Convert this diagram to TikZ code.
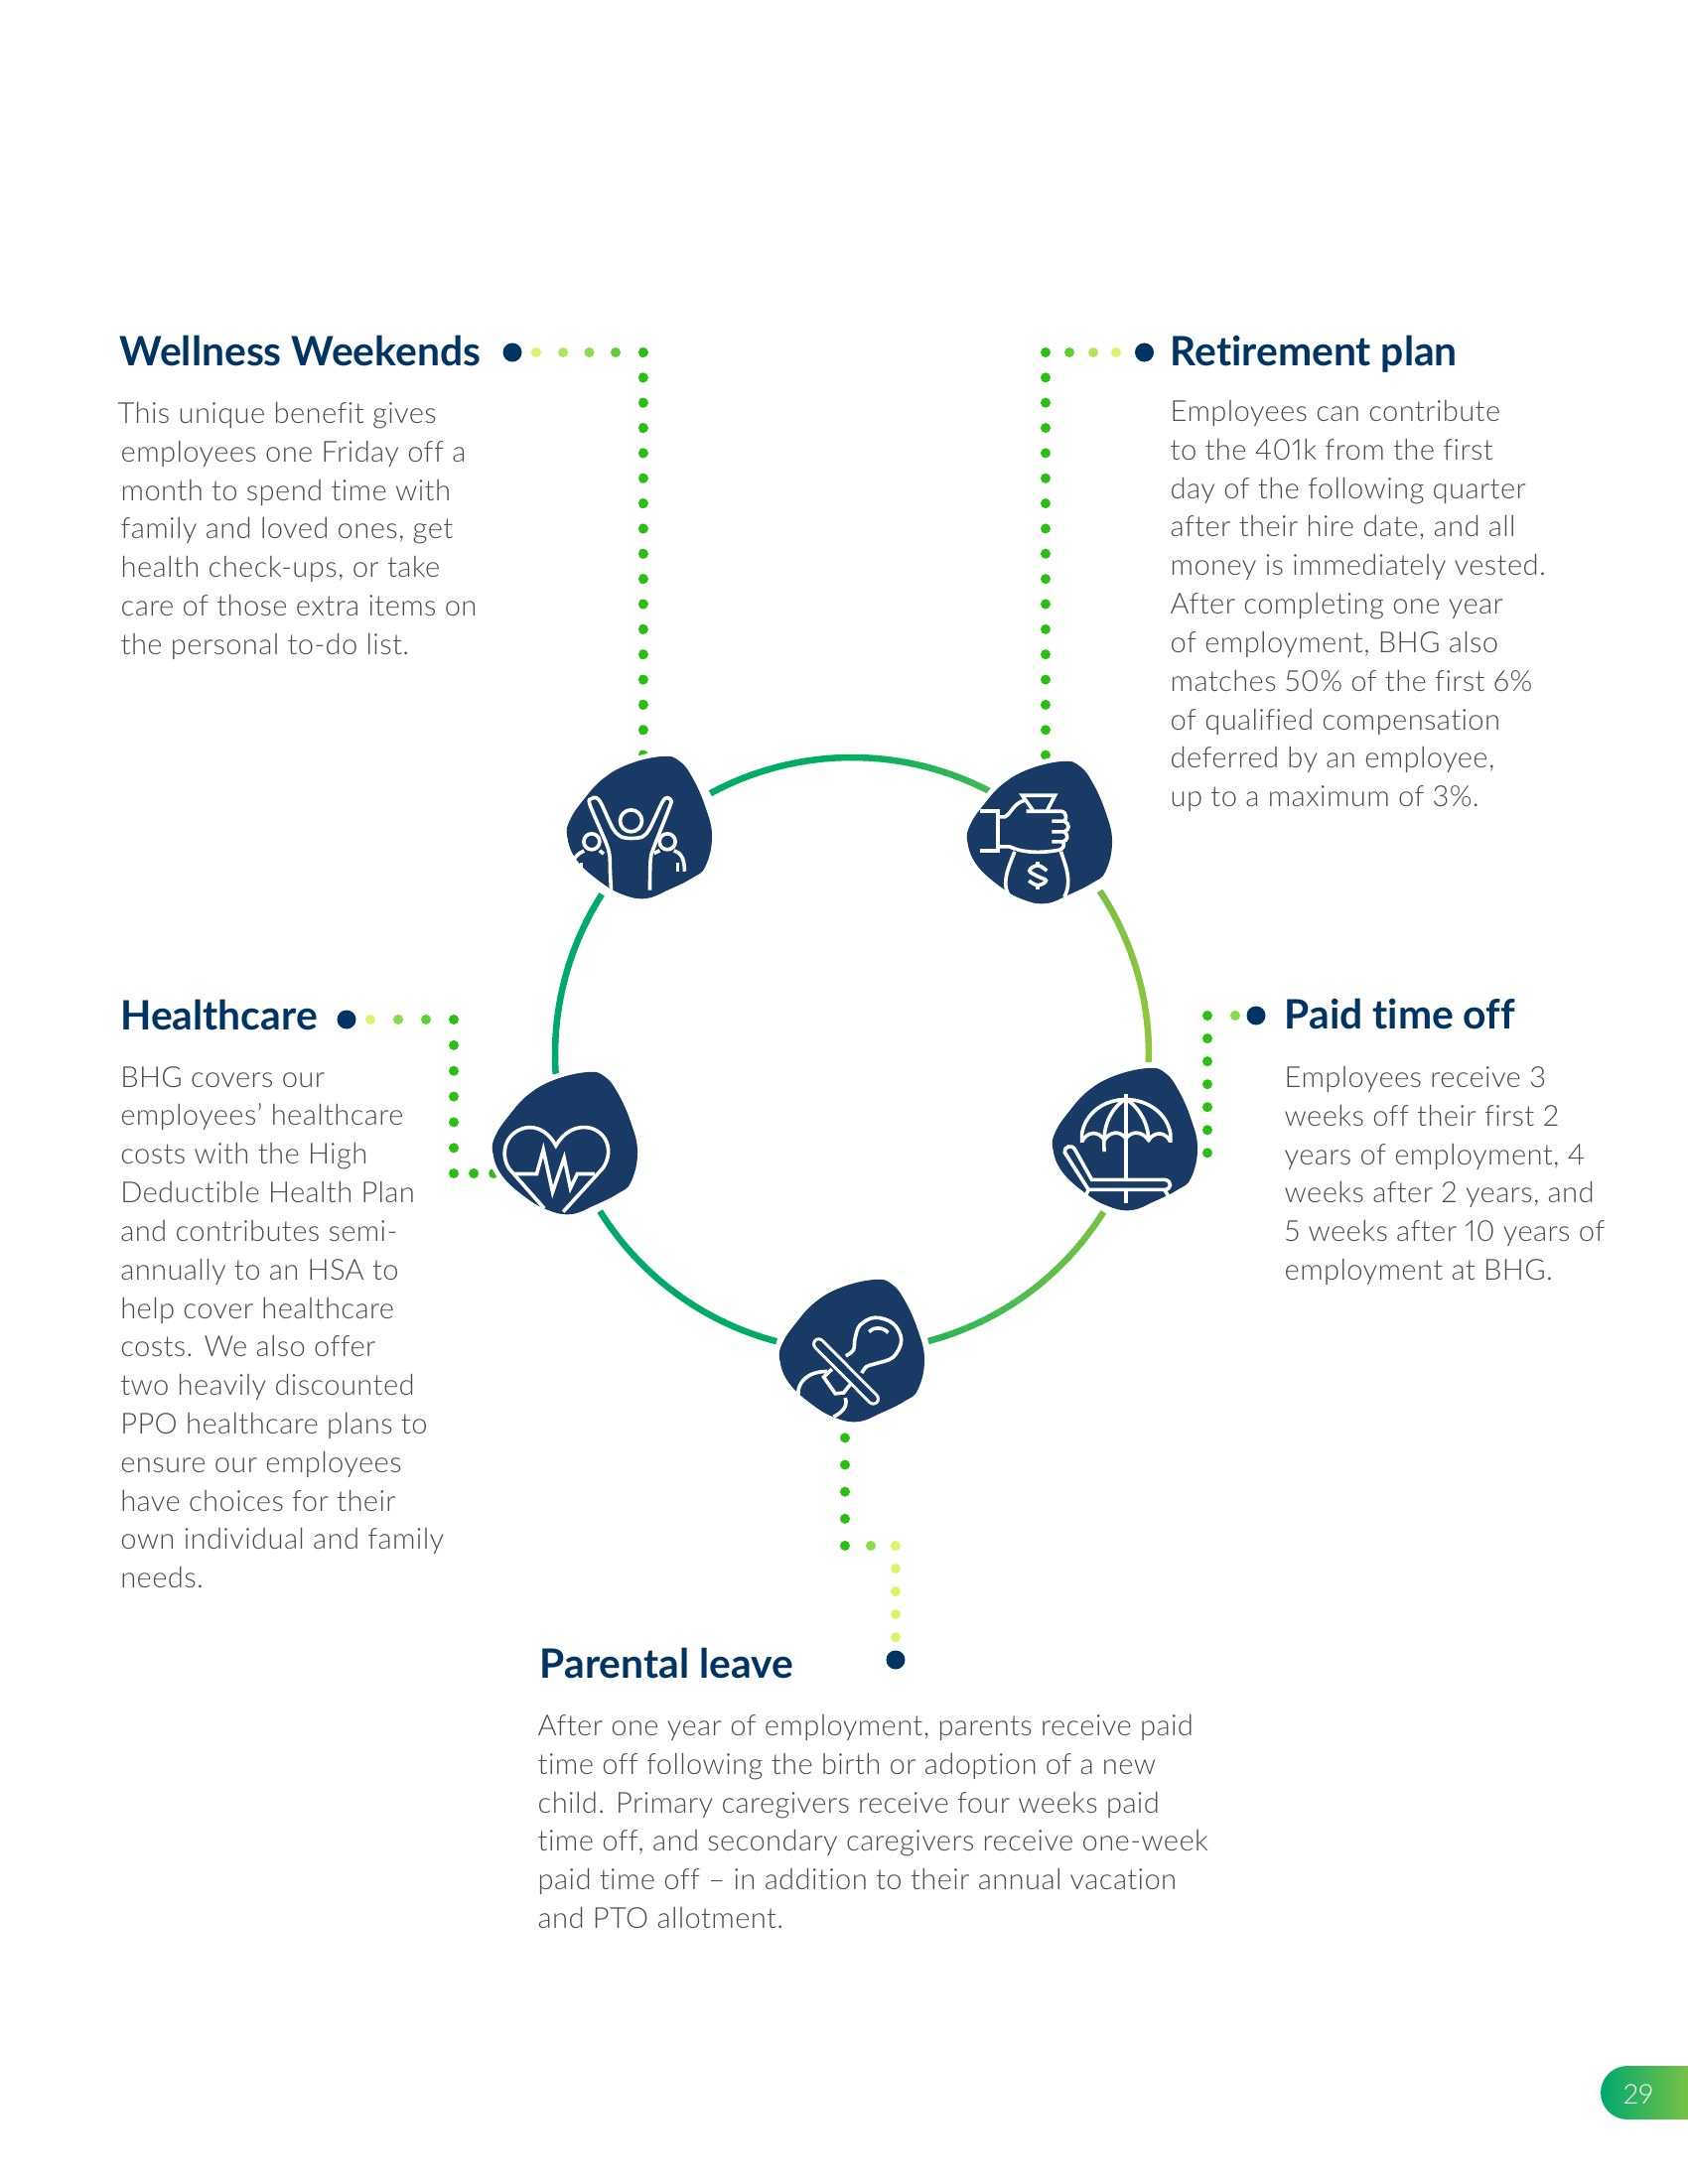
\documentclass[tikz,border=0pt]{standalone}
\usepackage{fontspec}
\usetikzlibrary{calc}
\newfontfamily\headface[Ligatures=CommonOff]{Lato Bold}
\newfontfamily\bodyface[LetterSpace=1.2,Ligatures=CommonOff,Numbers=Proportional]{Lato Light}
\definecolor{titleblue}{HTML}{003462}
\definecolor{bodygray}{HTML}{4C4D4F}
\definecolor{blobnavy}{HTML}{183A64}
\definecolor{ringteal}{HTML}{00A86F}
\definecolor{ringgreen}{HTML}{00AE60}
\definecolor{ringlime}{HTML}{8DC63F}
\definecolor{dota}{HTML}{D9F56A}
\definecolor{dotb}{HTML}{AEE85A}
\definecolor{dotc}{HTML}{86DC4C}
\definecolor{dotd}{HTML}{5ECF35}
\definecolor{dote}{HTML}{2BBE14}
\tikzset{
  headtext/.style={anchor=base west,inner sep=0pt,text=titleblue,font=\headface\fontsize{11.6}{13}\selectfont},
  bodytext/.style={anchor=north west,inner sep=0pt,align=left,text=bodygray,font=\bodyface\fontsize{8.3}{11.04}\selectfont},
  blobspot/.style={circle,inner sep=0pt,minimum size=1pt},
  navydot/.style={circle,inner sep=0pt,minimum size=0.19cm,fill=titleblue},
  leaddot/.style={circle,inner sep=0pt,minimum size=0.1cm,fill=#1},
  leadline/.style={line width=0.1cm,line cap=round,draw=#1,dash pattern=on 0.01pt off 0.253cm},
  ringline/.style={line width=0.065cm},
  iconline/.style={draw=white,line width=0.036cm},
  iconframe/.style={shift={(#1)},xshift=-0.8cm,yshift=0.8cm,x=0.0033333cm,y=-0.0033333cm}
}
\newcommand{\blobshape}{%
  \fill[blobnavy,preaction={draw=white,line width=0.1cm}] plot[smooth cycle,tension=0.7] coordinates
    {(310,27) (360,40) (400,90) (440,180) (460,270) (440,360) (400,395) (330,430) (260,457)
     (190,445) (120,405) (50,340) (22,270) (30,220) (70,160) (130,95) (210,50)};}
\newcommand{\ringarc}[3]{%
  \pgfmathsetmacro{\stepang}{(#2-#1)/12}
  \foreach \i in {1,...,12}{
    \pgfmathsetmacro{\startang}{#1+(\i-1)*\stepang}
    \pgfmathsetmacro{\mixp}{100*abs(cos(\startang+\stepang/2))}
    \coordinate (ringpt) at ($(hub)+(\startang:299)$);
    \draw[ringline,draw=#3!\mixp!ringgreen] (ringpt) arc[start angle=\startang,delta angle=\stepang+0.2,radius=299];
  }}
\begin{document}
\begin{tikzpicture}[x=0.01cm,y=-0.01cm]
\useasboundingbox (-1,0) rectangle (1699,2200);
\coordinate (hub) at (857,1062);
% blobs
\node[blobspot] (wellness) at (643,833) {};
\node[blobspot] (retire) at (1046,838) {};
\node[blobspot] (health) at (568,1151) {};
\node[blobspot] (paid) at (1132,1147) {};
\node[blobspot] (parent) at (857,1360) {};
% ring
\ringarc{-118.5}{-90}{ringteal}
\ringarc{-90}{-62.5}{ringlime}
\ringarc{-33.4}{1.3}{ringlime}
\ringarc{32.1}{74.9}{ringlime}
\ringarc{104.7}{147.9}{ringteal}
\ringarc{176.2}{212.4}{ringteal}
% leaders
\node[navydot] (wdot) at (515,355) {};
\coordinate (wcorner) at (646.5,355);
\foreach \x/\c in {539/dota,566/dotb,592.5/dotc,619/dotd}
  \node[leaddot=\c] (w\x) at (\x,355) {};
\draw[leadline=dote] (wcorner) -- (wcorner |- wellness);
\node[navydot] (rdot) at (1151.5,355) {};
\coordinate (rcorner) at (1052,355);
\foreach \x/\c in {1123/dota,1100/dotb,1076/dotd}
  \node[leaddot=\c] (r\x) at (\x,355) {};
\draw[leadline=dote] (rcorner) -- (rcorner |- retire);
\node[navydot] (hdot) at (348,1027) {};
\coordinate (hcorner) at (456,1027);
\coordinate (hturn) at (456,1182);
\foreach \x/\c in {372/dota,400/dotc,428/dotd}
  \node[leaddot=\c] (h\x) at (\x,1027) {};
\draw[leadline=dote,dash pattern=on 0.01pt off 0.258cm] (hcorner) -- (hturn);
\draw[leadline=dote,dash pattern=on 0.01pt off 0.2cm] (hturn) -- (hturn -| health);
\node[navydot] (pdot) at (1264,1023) {};
\coordinate (pcorner) at (1215,1023);
\coordinate (pend) at (1215,1162);
\node[leaddot=dotc] (p1243) at (1243,1023) {};
\draw[leadline=dote,dash pattern=on 0.01pt off 0.23cm] (pcorner) -- (pend);
\node[navydot] (kdot) at (901,1672) {};
\coordinate (kturn) at (901,1557);
\coordinate (kcorner) at (850,1557);
\node[leaddot=dotc] (k876) at (876,1557) {};
\draw[leadline=dota,dash pattern=on 0.01pt off 0.23cm] (kturn) -- (kdot);
\draw[leadline=dote,dash pattern=on 0.01pt off 0.271cm] (kcorner) -- (kcorner |- parent);
% wellness icon
\begin{scope}[iconframe=wellness]
\blobshape
\draw[iconline] (215,222) circle (33);
\draw[iconline] (96,285) circle (24);
\draw[iconline] (325,285) circle (24);
\draw[iconline] plot[smooth,tension=0.5] coordinates {(155,432) (152,380) (150,325) (138,285) (90,172) (95,155) (110,152) (125,170) (160,245) (185,270) (215,275) (250,270) (272,245) (310,165) (325,152) (337,162) (330,185) (285,300) (274,340) (272,432)};
\draw[iconline] (73,313) .. controls (60,318) and (52,325) .. (45,335);
\draw[iconline] (65,348) -- (65,375);
\draw[iconline] (120,312) -- (132,322);
\draw[iconline] (345,312) .. controls (365,318) and (377,335) .. (377,375);
\draw[iconline] (356,350) -- (356,375);
\draw[iconline] (285,320) -- (302,312);
\end{scope}
% retirement icon
\begin{scope}[iconframe=retire]
\blobshape
\draw[iconline] (220,175) -- (188,130) -- (287,130) -- (262,178);
\draw[iconline] (200,178) -- (305,178) .. controls (325,180) and (322,205) .. (315,208) -- (278,208);
\draw[iconline] (315,208) .. controls (332,215) and (332,235) .. (315,240) -- (278,240);
\draw[iconline] (315,240) .. controls (330,250) and (325,268) .. (310,270) -- (278,270);
\draw[iconline] (310,270) .. controls (318,280) and (312,292) .. (300,295) .. controls (250,305) and (190,305) .. (150,285) -- (115,285);
\draw[iconline] (60,178) -- (115,178) -- (115,297) -- (60,297);
\draw[iconline] (115,195) -- (135,195) .. controls (155,185) and (160,155) .. (195,145);
\draw[iconline] (165,300) .. controls (150,340) and (125,390) .. (145,428);
\draw[iconline] (305,300) .. controls (320,345) and (340,390) .. (315,438);
\draw[iconline] plot[smooth,tension=0.7] coordinates {(262,358) (235,342) (210,358) (235,375) (260,388) (235,402) (208,388)};
\draw[iconline] (235,332) -- (235,342);
\draw[iconline] (235,402) -- (235,414);
\end{scope}
% healthcare icon
\begin{scope}[iconframe=health]
\blobshape
\draw[iconline] (178,440) -- (72,320) .. controls (45,280) and (55,215) .. (115,197) .. controls (160,185) and (195,215) .. (213,250) .. controls (235,210) and (275,185) .. (320,197) .. controls (375,215) and (385,275) .. (355,318) -- (235,450);
\draw[iconline] (85,335) -- (155,335) -- (175,262) -- (203,390) -- (238,287) -- (257,378) -- (278,335) -- (330,335);
\end{scope}
% paid time off icon
\begin{scope}[iconframe=paid]
\blobshape
\draw[iconline] (243,105) -- (243,360);
\draw[iconline] (243,398) -- (243,435);
\draw[iconline] (110,252) -- (110,225) .. controls (120,165) and (175,122) .. (243,122) .. controls (310,122) and (368,165) .. (378,225) -- (378,252);
\draw[iconline] (110,250) .. controls (125,218) and (160,215) .. (178,245) .. controls (195,218) and (225,215) .. (243,240) .. controls (262,215) and (292,218) .. (312,245) .. controls (330,218) and (362,218) .. (378,250);
\draw[iconline] (178,280) .. controls (172,210) and (190,160) .. (235,125);
\draw[iconline] (312,248) .. controls (312,200) and (290,155) .. (250,125);
\draw[iconline] (130,395) -- (58,282) .. controls (55,265) and (80,255) .. (90,275) -- (140,365) -- (362,365) .. controls (385,370) and (380,395) .. (360,395) -- (130,395);
\draw[iconline] (130,395) -- (122,412);
\draw[iconline] (360,395) -- (372,415);
\end{scope}
% parental icon
\begin{scope}[iconframe=parent]
\blobshape
\draw[iconline] plot[smooth,tension=0.6] coordinates {(222,258) (245,240) (250,205) (265,165) (310,142) (365,160) (390,210) (365,262) (310,282) (285,290) (270,310)};
\draw[iconline] (292,185) .. controls (305,170) and (335,170) .. (350,188);
\draw[iconline] (78,375) .. controls (75,340) and (105,305) .. (165,305);
\draw[iconline] (180,298) -- (155,322) -- (190,372) -- (215,370) -- (235,345);
\draw[iconline] (220,385) .. controls (230,410) and (210,430) .. (185,442);
\draw[white,line width=0.13cm,line cap=round] (140,222) -- (305,388);
\draw[blobnavy,line width=0.07cm,line cap=round] (140,222) -- (305,388);
\end{scope}
% texts
\node[headtext] (wtitle) at (119,368) {Wellness Weekends};
\node[bodytext] (wbody) at (120,404.5) {\hspace*{-0.03cm}This unique benefit gives\\employees one Friday off a\\month to spend time with\\family and loved ones, get\\health check-ups, or take\\care of those extra items on\\the personal to-do list.};
\node[headtext] (rtitle) at (1177,368) {Retirement plan};
\node[bodytext] (rbody) at (1177,402.5) {Employees can contribute\\to the 401k from the first\\day of the following quarter\\after their hire date, and all\\money is immediately vested.\\After completing one year\\of employment, BHG also\\matches 50\% of the first 6\%\\of qualified compensation\\deferred by an employee,\\up to a maximum of 3\%.};
\node[headtext] (htitle) at (119.6,1037) {Healthcare};
\node[bodytext] (hbody) at (119.6,1073.5) {BHG covers our\\employees’ healthcare\\costs with the High\\Deductible Health Plan\\and contributes semi-\\annually to an HSA to\\help cover healthcare\\costs. We also offer\\two heavily discounted\\PPO healthcare plans to\\ensure our employees\\have choices for their\\own individual and family\\needs.};
\node[headtext] (ptitle) at (1292,1036) {Paid time off};
\node[bodytext] (pbody) at (1292,1073.5) {Employees receive 3\\weeks off their first 2\\years of employment, 4\\weeks after 2 years, and\\5 weeks after 10 years of\\employment at BHG.};
\node[headtext] (ktitle) at (542,1690) {Parental leave};
\node[bodytext] (kbody) at (540,1726.5) {After one year of employment, parents receive paid\\time off following the birth or adoption of a new\\child. Primary caregivers receive four weeks paid\\time off, and secondary caregivers receive one-week\\paid time off – in addition to their annual vacation\\and PTO allotment.};
% page tab
\shade[left color=ringteal,middle color=ringgreen,right color=ringlime!85!ringgreen] (1700,2081) [rounded corners=0.27cm] -- (1611,2081) -- (1611,2135) [sharp corners] -- (1700,2135) -- cycle;
\node[inner sep=0pt,text=white,font=\bodyface\fontsize{7.8}{9}\selectfont] (pagenum) at (1649,2110) {29};
\end{tikzpicture}
\end{document}
